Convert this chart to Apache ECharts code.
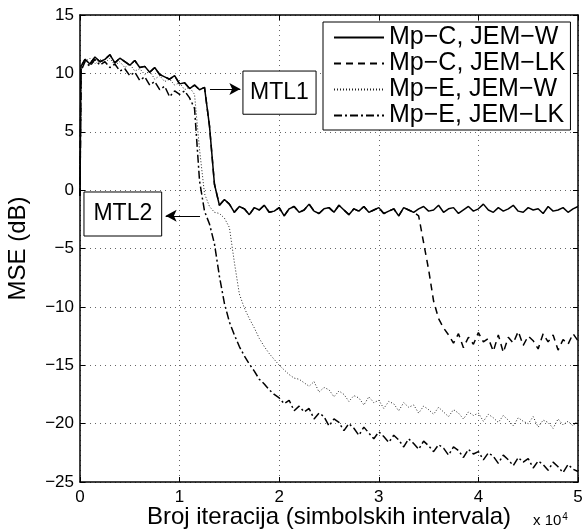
<!DOCTYPE html>
<html><head><meta charset="utf-8">
<script src="https://cdn.jsdelivr.net/npm/echarts@6/dist/echarts.min.js"></script>
<style>html,body{margin:0;padding:0;background:#fff}#c{width:582px;height:529px}</style>
</head><body><div id="c"></div>
<script>
// x positions (in units of 10^4 iterations)
const xs = [0,0.01,0.05,0.1,0.15,0.2,0.25,0.3,0.35,0.4,
0.45,0.5,0.55,0.6,0.65,0.7,0.75,0.8,0.85,0.9,
0.95,1,1.05,1.1,1.15,1.2,1.25,1.3,1.35,1.4,
1.45,1.5,1.55,1.6,1.65,1.7,1.75,1.8,1.85,1.9,
1.95,2,2.05,2.1,2.15,2.2,2.25,2.3,2.35,2.4,
2.45,2.5,2.55,2.6,2.65,2.7,2.75,2.8,2.85,2.9,
2.95,3,3.05,3.1,3.15,3.2,3.25,3.3,3.35,3.4,
3.45,3.5,3.55,3.6,3.65,3.7,3.75,3.8,3.85,3.9,
3.95,4,4.05,4.1,4.15,4.2,4.25,4.3,4.35,4.4,
4.45,4.5,4.55,4.6,4.65,4.7,4.75,4.8,4.85,4.9,
4.95,5];

// Mp-C, JEM-W (solid)
const mpcW = [-0.5,10.6,11.2,10.8,11.4,11.0,11.2,11.6,10.9,11.3,
11.0,10.7,11.1,10.5,10.6,10.1,10.5,9.9,9.7,9.5,
9.8,9.1,9.2,8.7,9.0,8.6,8.8,5.5,0.5,-1.3,
-0.8,-1.2,-1.9,-1.4,-1.6,-2.1,-1.5,-1.7,-1.3,-1.9,
-1.8,-1.5,-2.2,-1.6,-1.4,-1.9,-1.7,-1.2,-1.8,-2.0,
-1.6,-1.5,-1.9,-1.3,-1.7,-2.1,-1.6,-1.8,-1.4,-1.9,
-1.7,-1.5,-2.0,-1.8,-1.6,-2.2,-1.5,-1.7,-1.9,-1.6,
-1.4,-1.8,-1.7,-1.3,-1.9,-1.6,-1.5,-2.0,-1.7,-1.4,
-1.8,-1.6,-1.2,-1.7,-1.9,-1.5,-1.8,-1.6,-1.3,-1.8,
-1.9,-1.5,-1.7,-1.6,-2.0,-1.4,-1.8,-1.7,-1.5,-1.9,
-1.6,-1.4];

// Mp-C, JEM-LK (dashed) - overlaps the solid curve until ~3.4
const mpcLK = [-0.5,10.6,11.2,10.8,11.4,11.0,11.2,11.6,10.9,11.3,
11.0,10.7,11.1,10.5,10.6,10.1,10.5,9.9,9.7,9.5,
9.8,9.1,9.2,8.7,9.0,8.6,8.8,5.5,0.5,-1.3,
-0.8,-1.2,-1.9,-1.4,-1.6,-2.1,-1.5,-1.7,-1.3,-1.9,
-1.8,-1.5,-2.2,-1.6,-1.4,-1.9,-1.7,-1.2,-1.8,-2.0,
-1.6,-1.5,-1.9,-1.3,-1.7,-2.1,-1.6,-1.8,-1.4,-1.9,
-1.7,-1.5,-2.0,-1.8,-1.6,-2.2,-1.5,-1.7,-1.9,-2.2,
-4.5,-6.8,-9.5,-11.0,-11.8,-12.4,-13.1,-12.3,-13.5,-12.6,
-13.2,-12.2,-13.0,-12.7,-13.8,-12.4,-13.9,-12.6,-13.1,-12.1,
-13.3,-12.5,-12.9,-13.6,-12.3,-13.0,-12.4,-13.7,-12.8,-13.2,
-12.3,-12.9];

// Mp-E, JEM-W (dotted)
const mpeW = [-0.5,10.4,11.0,11.3,10.8,11.2,10.9,11.3,10.7,11.0,
10.5,10.8,10.2,10.4,9.9,10.2,9.5,9.8,9.3,9.5,
9.0,9.2,8.6,8.8,8.2,3.5,-0.3,-1.4,-1.9,-2.0,
-2.4,-3.2,-6.2,-8.9,-10.1,-11.0,-11.8,-12.7,-13.4,-14.0,
-14.5,-15.0,-15.4,-15.8,-16.1,-16.2,-16.5,-16.8,-16.4,-17.3,
-16.9,-17.1,-17.7,-17.2,-17.5,-18.1,-17.6,-17.8,-18.4,-17.7,
-18.2,-18.0,-18.7,-18.1,-18.3,-18.9,-18.2,-18.6,-18.4,-19.1,
-18.5,-18.8,-19.2,-18.6,-19.0,-19.4,-18.8,-19.1,-19.6,-19.0,
-19.3,-19.1,-19.8,-19.2,-19.5,-19.9,-19.3,-19.7,-20.2,-19.5,
-19.8,-20.0,-19.4,-20.3,-19.7,-19.9,-20.4,-19.6,-20.1,-19.8,
-20.2,-19.7];

// Mp-E, JEM-LK (dash-dot)
const mpeLK = [-0.5,10.2,11.0,10.6,11.2,10.7,11.0,10.5,10.8,10.2,
10.4,9.8,10.1,9.4,9.7,9.0,9.3,8.6,8.9,8.0,
8.5,8.2,8.5,7.9,7.0,0.8,-1.8,-2.9,-4.6,-7.4,
-9.7,-11.3,-12.4,-13.4,-14.2,-14.9,-15.5,-16.2,-16.6,-17.1,
-17.5,-17.8,-18.3,-18.0,-18.9,-18.5,-19.0,-18.7,-19.6,-19.1,
-19.4,-20.2,-19.6,-19.9,-20.6,-20.0,-20.4,-21.0,-20.3,-20.8,
-21.3,-20.7,-21.1,-21.6,-21.0,-21.4,-22.0,-21.3,-21.7,-22.2,
-21.5,-21.9,-22.4,-21.8,-22.1,-22.7,-22.0,-22.3,-22.9,-22.2,
-22.6,-22.4,-23.1,-22.5,-22.8,-23.4,-22.7,-23.1,-23.6,-22.9,
-23.3,-23.0,-23.8,-23.2,-23.5,-24.0,-23.3,-23.7,-24.2,-23.5,
-23.9,-24.1];

const seriesNames = ['Mp\u2212C, JEM\u2212W','Mp\u2212C, JEM\u2212LK','Mp\u2212E, JEM\u2212W','Mp\u2212E, JEM\u2212LK'];
const xTicks = [0,1,2,3,4,5];
const yTicks = [-25,-20,-15,-10,-5,0,5,10,15];

const FONT = '"Liberation Sans", Arial, Helvetica, sans-serif';
const fmt = v => String(v).replace('-', '\u2212');
const pts = arr => xs.map((x, i) => [x, arr[i]]);

const chart = echarts.init(document.getElementById('c'), null, {renderer: 'canvas'});

const axLine = {show: true, onZero: false, lineStyle: {color: '#000', width: 1.5}};
const axTick = {show: true, inside: true, length: 5, lineStyle: {color: '#000', width: 1}};
const gridLine = {show: true, lineStyle: {color: '#000', type: [1, 4], width: 1, opacity: 0.6}};

const option = {
  animation: false,
  backgroundColor: '#fff',
  textStyle: {fontFamily: FONT},
  grid: {left: 80, right: 4, top: 15, bottom: 47, outerBoundsMode: 'none', containLabel: false},
  xAxis: [{
    type: 'value', min: xTicks[0], max: xTicks[xTicks.length - 1], interval: 1, position: 'bottom',
    axisLine: axLine, axisTick: axTick, splitLine: gridLine,
    axisLabel: {color: '#000', fontSize: 17, fontFamily: FONT, margin: 7, formatter: fmt},
    name: 'Broj iteracija (simbolskih intervala)', nameLocation: 'middle', nameGap: 23,
    nameMoveOverlap: false,
    nameTextStyle: {color: '#000', fontSize: 24, fontFamily: FONT}
  }, {
    type: 'value', min: xTicks[0], max: xTicks[xTicks.length - 1], interval: 1, position: 'top',
    axisLine: axLine, axisTick: axTick, splitLine: {show: false}, axisLabel: {show: false}
  }],
  yAxis: [{
    type: 'value', min: yTicks[0], max: yTicks[yTicks.length - 1], interval: 5, position: 'left',
    axisLine: axLine, axisTick: axTick, splitLine: gridLine,
    axisLabel: {color: '#000', fontSize: 17, fontFamily: FONT, margin: 6, formatter: fmt},
    name: 'MSE (dB)', nameLocation: 'middle', nameGap: 50, nameRotate: 90,
    nameTextStyle: {color: '#000', fontSize: 24, fontFamily: FONT}
  }, {
    type: 'value', min: yTicks[0], max: yTicks[yTicks.length - 1], interval: 5, position: 'right',
    axisLine: axLine, axisTick: axTick, splitLine: {show: false}, axisLabel: {show: false}
  }],
  legend: {
    data: seriesNames, orient: 'vertical', left: 323, top: 22,
    backgroundColor: '#fff', borderColor: '#000', borderWidth: 1, borderRadius: 0,
    padding: [3, 5, 2, 10], itemGap: 1, itemWidth: 50, itemHeight: 14,
    itemStyle: {opacity: 0},
    textStyle: {color: '#000', fontSize: 25, fontFamily: FONT}
  },
  graphic: [{
    type: 'text', left: 533, top: 512,
    style: {text: 'x 10{s|4}', fill: '#000', font: '15px ' + FONT,
      rich: {s: {fontSize: 10, verticalAlign: 'top', padding: [0, 0, 8, 1]}}}
  }],
  series: [{
    name: seriesNames[2], type: 'line', data: pts(mpeW), showSymbol: false, symbol: 'none',
    itemStyle: {color: '#000'},
    lineStyle: {color: '#222', width: 1, type: [1, 2]}
  }, {
    name: seriesNames[3], type: 'line', data: pts(mpeLK), showSymbol: false, symbol: 'none',
    itemStyle: {color: '#000'},
    lineStyle: {color: '#000', width: 1.5, type: [8, 3, 2, 3]}
  }, {
    name: seriesNames[1], type: 'line', data: pts(mpcLK), showSymbol: false, symbol: 'none',
    itemStyle: {color: '#000'},
    lineStyle: {color: '#000', width: 1.5, type: [7, 5]}
  }, {
    name: seriesNames[0], type: 'line', data: pts(mpcW), showSymbol: false, symbol: 'none',
    itemStyle: {color: '#000'},
    lineStyle: {color: '#000', width: 1.5, type: 'solid'},
    markArea: {
      silent: true,
      itemStyle: {color: '#fff', borderColor: '#000', borderWidth: 1},
      label: {show: true, position: 'inside', color: '#000', fontSize: 23, fontFamily: FONT, formatter: '{b}'},
      data: [
        [{name: 'MTL1', coord: [1.636, 10.2]}, {coord: [2.37, 6.5]}],
        [{name: 'MTL2', coord: [0.04, -0.16]}, {coord: [0.82, -3.93]}]
      ]
    },
    markLine: {
      silent: true, symbol: ['none', 'arrow'], symbolSize: [9, 11],
      lineStyle: {color: '#000', width: 1, type: 'solid'},
      label: {show: false},
      data: [
        [{coord: [1.305, 8.66]}, {coord: [1.61, 8.66]}],
        [{coord: [1.205, -2.2]}, {coord: [0.86, -2.2]}]
      ]
    }
  }]
};
chart.setOption(option);
</script>
</body></html>
